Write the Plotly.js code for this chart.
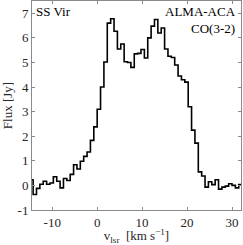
<!DOCTYPE html>
<html>
<head>
<meta charset="utf-8">
<script src="https://cdn.plot.ly/plotly-3.0.1.min.js"></script>
<style>html,body{margin:0;padding:0;background:#fff;}#plot{width:243px;height:245px;}</style>
</head>
<body>
<div id="plot"></div>
<script>
// Channel left edges (km/s) and flux (Jy)
const velocity = [-15, -14.25, -13.5, -12.75, -12, -11.25, -10.5, -9.75, -9, -8.25,
  -7.5, -6.75, -6, -5.25, -4.5, -3.75, -3, -2.25, -1.5, -0.75,
  0, 0.75, 1.5, 2.25, 3, 3.75, 4.5, 5.25, 6, 6.75,
  7.5, 8.25, 9, 9.75, 10.5, 11.25, 12, 12.75, 13.5, 14.25,
  15, 15.75, 16.5, 17.25, 18, 18.75, 19.5, 20.25, 21, 21.75,
  22.5, 23.25, 24, 24.75, 25.5, 26.25, 27, 27.75, 28.5, 29.25,
  30, 30.75, 31.5, 32.25];
const flux = [0.23, -0.37, -0.12, 0.05, 0.17, 0.05, 0.1, 0.35, 0.17, -0.1,
  0.28, 0.2, 0.45, 0.84, 0.67, 0.98, 1.18, 1.36, 1.83, 2.38,
  3.1, 4.0, 5.02, 6.6, 6.78, 6.27, 5.55, 5.75, 5.03, 5.0,
  4.8, 5.35, 5.37, 5.53, 5.18, 6.0, 6.48, 6.75, 6.2, 6.4,
  5.55, 5.25, 5.2, 4.9, 4.45, 4.3, 4.2, 3.2, 2.25, 1.72,
  0.55, 0.38, -0.07, 0.15, 0.03, 0.23, -0.15, -0.07, -0.03, 0.07,
  0.0, -0.1, 0.03, 0.03];
const xTicks = [-10, 0, 10, 20, 30];
const yTicks = [-1, 0, 1, 2, 3, 4, 5, 6, 7];
const starName = "SS Vir";
const instrumentLines = ["ALMA-ACA", "CO(3-2)"];

const axisGrey = '#8a8a8a';
const font = {family: 'Liberation Serif, DejaVu Serif, serif', size: 13, color: '#262626'};
const annFont = {family: 'Liberation Serif, DejaVu Serif, serif', size: 13, color: '#000'};

const trace = {
  x: velocity, y: flux, type: 'scatter', mode: 'lines',
  line: {shape: 'hv', color: '#000', width: 1.6},
  hoverinfo: 'skip'
};

const layout = {
  width: 243, height: 245,
  margin: {l: 32, r: 2, t: 1, b: 35},
  paper_bgcolor: '#fff', plot_bgcolor: '#fff',
  showlegend: false,
  font: font,
  xaxis: {
    range: [-14.5, 32], tickvals: xTicks, ticktext: xTicks.map(String),
    ticks: 'inside', ticklen: 3, tickcolor: axisGrey, tickwidth: 1,
    showline: true, linecolor: axisGrey, linewidth: 1, mirror: 'ticks',
    showgrid: false, zeroline: false, tickfont: font,
    title: {text: 'v<sub>lsr</sub>  [km s<sup>−1</sup>]', font: font, standoff: 3}
  },
  yaxis: {
    range: [-1, 7.5], tickvals: yTicks, ticktext: yTicks.map(String),
    ticks: 'inside', ticklen: 3, tickcolor: axisGrey, tickwidth: 1,
    showline: true, linecolor: axisGrey, linewidth: 1, mirror: 'ticks',
    showgrid: false, zeroline: false, tickfont: font,
    title: {text: 'Flux [Jy]', font: font, standoff: 4}
  },
  annotations: [
    {text: starName, xref: 'paper', yref: 'paper', x: 0.01, y: 0.995,
     xanchor: 'left', yanchor: 'top', showarrow: false, font: annFont},
    {text: instrumentLines.join('<br>'), xref: 'paper', yref: 'paper', x: 0.985, y: 0.995,
     xanchor: 'right', yanchor: 'top', align: 'right', showarrow: false, font: annFont}
  ]
};

Plotly.newPlot('plot', [trace], layout, {displayModeBar: false, staticPlot: true});
</script>
</body>
</html>
